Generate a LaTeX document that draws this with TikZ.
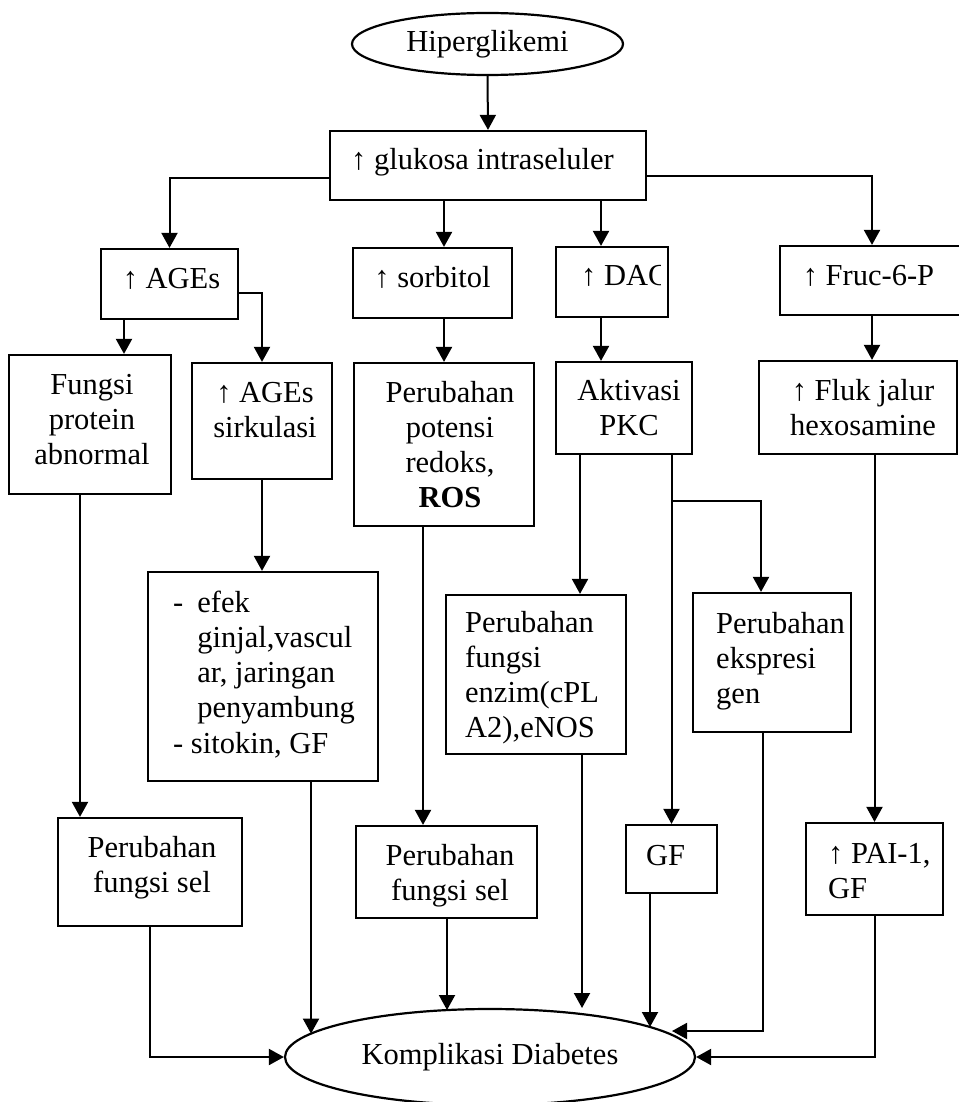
\documentclass[tikz,border=0pt]{standalone}
\usepackage{fontspec}
\setmainfont{Liberation Serif}
\usetikzlibrary{arrows.meta,shapes.geometric}
\newcommand\myfs{\fontsize{30.5pt}{35.3pt}\selectfont}
\newcommand\ctab[1]{\begin{tabular}[t]{@{}c@{}}#1\end{tabular}}
\newcommand\ltab[1]{\begin{tabular}[t]{@{}l@{}}#1\end{tabular}}
\begin{document}
\begin{tikzpicture}[x=1pt,y=-1pt,
  box/.style={draw, line width=2.2pt, rectangle, inner sep=0pt},
  ell/.style={draw, line width=2.2pt, ellipse, inner sep=0pt, font=\myfs},
  txt/.style={inner sep=0pt, font=\myfs, anchor=base},
  ltxt/.style={inner sep=0pt, font=\myfs, anchor=base west},
  arr/.style={line width=2pt, -{Triangle[length=15pt,width=16pt]}},
  ln/.style={line width=2pt}]
\fill[white] (0,0) rectangle (958,1102);
\useasboundingbox (0,0) rectangle (958,1102);

% ---------- ellipses ----------
\node[ell, minimum width=271pt, minimum height=62pt] (hip) at (487.5,44) {Hiperglikemi};
\node[ell, minimum width=410pt, minimum height=96pt] (kom) at (490,1057) {Komplikasi Diabetes};

% ---------- boxes ----------
\node[box, minimum width=316pt, minimum height=69pt] (glu) at (488,165.5) {};
\node[box, minimum width=137pt, minimum height=70pt] (ages) at (169.5,284) {};
\node[box, minimum width=159pt, minimum height=70pt] (sorb) at (432.5,283) {};
\node[box, minimum width=112pt, minimum height=70pt] (dag) at (612,282) {};
\node[box, minimum width=184pt, minimum height=69pt] (fruc) at (872,280.5) {};
\node[box, minimum width=162pt, minimum height=139pt] (fungsi) at (90,424.5) {};
\node[box, minimum width=140pt, minimum height=116pt] (sirk) at (262,421) {};
\node[box, minimum width=180pt, minimum height=163pt] (ros) at (444,444.5) {};
\node[box, minimum width=136pt, minimum height=92pt] (pkc) at (624,408) {};
\node[box, minimum width=198pt, minimum height=93pt] (fluk) at (858,407.5) {};
\node[box, minimum width=230pt, minimum height=209pt] (efek) at (263,676.5) {};
\node[box, minimum width=180pt, minimum height=159pt] (enzim) at (536,674.5) {};
\node[box, minimum width=158pt, minimum height=139pt] (ekspr) at (772,662.5) {};
\node[box, minimum width=184pt, minimum height=108pt] (lsel) at (150,872) {};
\node[box, minimum width=181pt, minimum height=92pt] (msel) at (446.5,872) {};
\node[box, minimum width=91pt, minimum height=68pt] (gf) at (671.5,859) {};
\node[box, minimum width=137pt, minimum height=92pt] (pai) at (874.5,869) {};

% ---------- texts ----------
\node[txt] (tglu) at (482.5,170) {↑ glukosa intraseluler};
\node[txt] (tages) at (171.5,288) {↑ AGEs};
\node[txt] (tsorb) at (432.5,287) {↑ sorbitol};
\coordinate (dagclip) at (660,0);
\begin{scope}
  \clip (dag.south west) rectangle (dag.north -| dagclip);
  \node[ltxt] (tdag) at (581,285) {↑ DAG};
\end{scope}
\node[txt] (tfruc) at (868.5,285) {↑ Fruc-6-P};
\node[txt] (tfungsi) at (92,394) {\ctab{Fungsi\\protein\\abnormal}};
\node[txt] (tsirk) at (265,402) {\ctab{↑ AGEs\\sirkulasi}};
\node[txt] (tros) at (450,402) {\ctab{Perubahan\\potensi\\redoks,\\\textbf{ROS}}};
\node[txt] (tpkc) at (629,400) {\ctab{Aktivasi\\PKC}};
\node[txt] (tfluk) at (863,400) {\ctab{↑ Fluk jalur\\hexosamine}};
\node[ltxt] (tefek) at (173,612) {\begin{tabular}[t]{@{}l@{\hspace{14pt}}l@{}}-&efek\\&ginjal,vascul\\&ar, jaringan\\&penyambung\\\multicolumn{2}{@{}l@{}}{- sitokin, GF}\end{tabular}};
\node[ltxt] (tenzim) at (465,632) {\ltab{Perubahan\\fungsi\\enzim(cPL\\A2),eNOS}};
\node[ltxt] (tekspr) at (716,633) {\ltab{Perubahan\\ekspresi\\gen}};
\node[txt] (tlsel) at (152,857) {\ctab{Perubahan\\fungsi sel}};
\node[txt] (tmsel) at (450,865) {\ctab{Perubahan\\fungsi sel}};
\node[txt] (tgf) at (665.5,865) {GF};
\node[ltxt] (tpai) at (828,863) {\ltab{↑ PAI-1,\\GF}};

% ---------- helper coordinates ----------
\coordinate (xA) at (124,0);
\coordinate (xD) at (601,0);
\coordinate (xF) at (80,0);
\coordinate (xR) at (423,0);
\coordinate (xP) at (580,0);
\coordinate (xE) at (761,0);
\coordinate (xE2) at (763,0);
\coordinate (br) at (671.5,501);
\coordinate (k1) at (311,1033.6);
\coordinate (k2) at (447,1010);
\coordinate (k3) at (582,1008);
\coordinate (k4) at (650,1027);
\coordinate (k5) at (672,1031);

% ---------- connectors ----------
\draw[arr] (hip.south) -- (glu.north);
\draw[arr] ([yshift=-12.5pt]glu.west) -| (ages.north);
\draw[arr] ([yshift=-10.5pt]glu.east) -| (fruc.north);
\draw[arr] (glu.south -| ros.north) -- (sorb.north -| ros.north);
\draw[arr] (glu.south -| xD) -- (dag.north -| xD);

\draw[arr] (ages.south -| xA) -- (fungsi.north -| xA);
\draw[arr] ([yshift=-9pt]ages.east) -| (sirk.north);
\draw[arr] (sorb.south -| ros.north) -- (ros.north);
\draw[arr] (dag.south -| xD) -- (pkc.north -| xD);
\draw[arr] (fruc.south) -- (fruc.south |- fluk.north);

\draw[arr] (sirk.south) -- (efek.north -| sirk.south);
\draw[arr] (fungsi.south -| xF) -- (lsel.north -| xF);
\draw[arr] (ros.south -| xR) -- (msel.north -| xR);
\draw[arr] (pkc.south -| xP) -- (enzim.north -| xP);
\draw[arr] (pkc.south -| gf.north) -- (gf.north);
\draw[arr] (br) -| (ekspr.north -| xE);
\draw[arr] (fluk.south -| pai.north) -- (pai.north);

\draw[arr] (lsel.south) |- (kom.west);
\draw[arr] (efek.south -| k1) -- (k1);
\draw[arr] (msel.south -| k2) -- (k2);
\draw[arr] (enzim.south -| k3) -- (k3);
\draw[arr] (gf.south -| k4) -- (k4);
\draw[arr] (ekspr.south -| xE2) |- (k5);
\draw[arr] (pai.south) |- (kom.east);
\end{tikzpicture}
\end{document}
